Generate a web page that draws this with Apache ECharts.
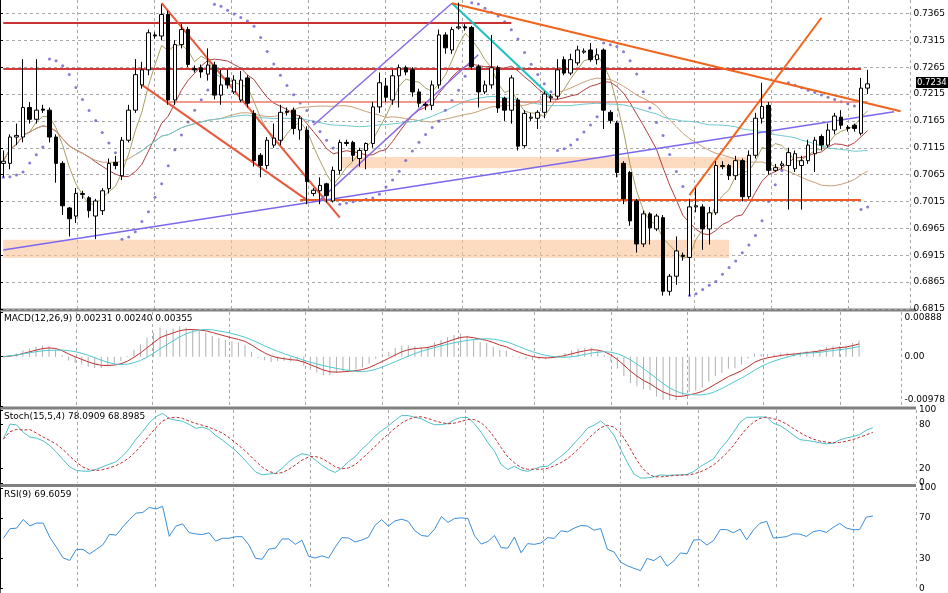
<!DOCTYPE html>
<html><head><meta charset="utf-8">
<script src="https://cdn.jsdelivr.net/npm/echarts@6/dist/echarts.min.js"></script>
<style>html,body{margin:0;padding:0;background:#fff}#c{width:948px;height:593px}</style>
</head><body><div id="c"></div>
<script>
// candles: [open, close, low, high]
const candles = [
[.7086,.7090,.7060,.7110],[.7086,.7135,.7075,.7140],[.7135,.7138,.7120,.7160],[.7135,.7190,.7125,.7280],
[.7190,.7168,.7160,.7200],[.7168,.7185,.7160,.7280],[.7187,.7185,.7180,.7195],[.7185,.7135,.7125,.7190],
[.7135,.7086,.7050,.7140],[.7086,.7007,.6990,.7090],[.7003,.6983,.6950,.7005],[.6988,.7030,.6975,.7040],
[.7028,.7030,.7020,.7035],[.7022,.6998,.6985,.7025],[.6988,.7016,.6945,.7020],[.6998,.7035,.6990,.7040],
[.7039,.7086,.7030,.7095],[.7088,.7082,.7075,.7100],[.7063,.7129,.7055,.7135],[.7129,.7185,.7125,.7195],
[.7185,.7251,.7180,.7280],[.7232,.7260,.7225,.7275],[.7260,.7329,.7250,.7335],[.7325,.7323,.7318,.7330],
[.7323,.7363,.7315,.7382],[.7363,.7204,.7195,.7370],[.7204,.7307,.7195,.7315],[.7307,.7335,.7300,.7345],
[.7335,.7270,.7265,.7340],[.7262,.7260,.7255,.7268],[.7264,.7256,.7245,.7270],[.7252,.7269,.7240,.7300],
[.7269,.7213,.7205,.7275],[.7213,.7232,.7195,.7260],[.7245,.7232,.7225,.7260],[.7219,.7241,.7215,.7250],
[.7204,.7241,.7200,.7258],[.7245,.7198,.7190,.7250],[.7179,.7091,.7080,.7185],[.7101,.7082,.7060,.7105],
[.7082,.7129,.7075,.7135],[.7120,.7133,.7115,.7160],[.7129,.7181,.7120,.7195],[.7183,.7181,.7175,.7190],
[.7185,.7151,.7140,.7190],[.7148,.7170,.7130,.7175],[.7148,.7052,.7010,.7155],[.7030,.7036,.7025,.7040],
[.7035,.7045,.7010,.7060],[.7048,.7026,.7013,.7050],[.7016,.7073,.7013,.7080],[.7073,.7125,.7065,.7130],
[.7125,.7123,.7118,.7130],[.7125,.7101,.7090,.7128],[.7095,.7110,.7080,.7115],[.7110,.7123,.7075,.7125],
[.7123,.7191,.7115,.7200],[.7191,.7236,.7180,.7255],[.7230,.7209,.7200,.7245],[.7204,.7249,.7195,.7260],
[.7249,.7264,.7190,.7270],[.7264,.7256,.7250,.7268],[.7260,.7219,.7210,.7265],[.7219,.7198,.7190,.7225],
[.7196,.7194,.7185,.7200],[.7194,.7232,.7185,.7240],[.7232,.7325,.7225,.7335],[.7325,.7301,.7290,.7330],
[.7297,.7335,.7290,.7340],[.7338,.7340,.7335,.7385],[.7340,.7338,.7333,.7345],[.7339,.7266,.7260,.7342],
[.7266,.7219,.7190,.7270],[.7219,.7232,.7215,.7240],[.7232,.7264,.7225,.7325],[.7264,.7189,.7180,.7268],
[.7207,.7185,.7165,.7210],[.7185,.7245,.7160,.7250],[.7204,.7118,.7110,.7208],[.7119,.7179,.7115,.7185],
[.7170,.7172,.7165,.7180],[.7170,.7181,.7150,.7185],[.7181,.7215,.7170,.7220],[.7208,.7210,.7200,.7215],
[.7211,.7260,.7205,.7280],[.7279,.7254,.7250,.7285],[.7254,.7279,.7250,.7290],[.7273,.7297,.7268,.7305],
[.7293,.7295,.7290,.7300],[.7297,.7279,.7275,.7310],[.7279,.7288,.7270,.7300],[.7297,.7185,.7150,.7300],
[.7181,.7166,.7160,.7185],[.7161,.7069,.7060,.7165],[.7086,.7020,.7010,.7090],[.7069,.6979,.6970,.7072],
[.7016,.6936,.6920,.7020],[.6936,.6992,.6930,.6998],[.6992,.6966,.6935,.6995],[.6964,.6988,.6960,.6992],
[.6985,.6848,.6840,.6990],[.6848,.6876,.6840,.6880],[.6876,.6923,.6860,.6950],[.6915,.6913,.6905,.6920],
[.6911,.7005,.6840,.7020],[.7005,.7007,.6995,.7040],[.7005,.6964,.6925,.7010],[.6964,.6994,.6935,.7005],
[.6994,.7082,.6990,.7090],[.7080,.7082,.7075,.7090],[.7082,.7063,.7055,.7085],[.7063,.7091,.7055,.7100],
[.7091,.7024,.7015,.7095],[.7024,.7101,.7020,.7110],[.7101,.7170,.7095,.7180],[.7170,.7192,.7160,.7236],
[.7194,.7073,.7065,.7200],[.7073,.7078,.7070,.7085],[.7082,.7085,.7075,.7090],[.7082,.7106,.7000,.7115],
[.7076,.7104,.7070,.7110],[.7082,.7091,.7000,.7100],[.7091,.7120,.7085,.7130],[.7104,.7129,.7070,.7135],
[.7136,.7120,.7110,.7140],[.7120,.7148,.7115,.7160],[.7148,.7174,.7140,.7180],[.7172,.7157,.7150,.7185],
[.7153,.7151,.7145,.7157],[.7157,.7151,.7145,.7160],[.7142,.7226,.7138,.7245],[.7226,.7234,.7215,.7260]
];
const slotCount = 138;
const priceTicks = [0.6815,0.6865,0.6915,0.6965,0.7015,0.7065,0.7115,0.7165,0.7215,0.7265,0.7315,0.7365];
const macdTicks = [-0.00978,0,0.00888];
const stochTicks = [0,20,80,100];
const rsiTicks = [0,30,70,100];
const lastPrice = 0.7234;
// trendlines [i1,p1,i2,p2,color,width]
const trendLines = [
 [-0.5,.7347,77.2,.7347,'#c83232',2],[-0.5,.7262,129.5,.7262,'#d23a3a',2],
 [25.4,.7200,130.7,.7200,'#ec7a68',1.5],[44.7,.7018,129.5,.7018,'#f05a1e',2],
 [-0.5,.7133,137.5,.7211,'#1a237e',2],[-0.5,.6925,135.2,.7182,'#7b68ee',1.5],
 [23.6,.7384,50.5,.6985,'#e8583c',2],[21.1,.7232,46.3,.7018,'#e8583c',2],
 [46.6,.7157,68.1,.7384,'#8a6be0',1.5],[47.5,.7018,71.9,.7288,'#8a6be0',1.5],
 [68.1,.7384,82.5,.7210,'#20c0c0',2],[68.1,.7384,136,.7183,'#f0641e',2],
 [103.6,.7027,124,.7357,'#f0641e',2],[103.9,.6832,137.5,.7130,'#f0641e',2]
];
const zones = [[51.2,.7098,112.9,.7077],[-0.5,.6944,110.4,.6910]];

const cats = Array.from({length:slotCount},(_,i)=>i);
const close = candles.map(c=>c[1]), high = candles.map(c=>c[3]), low = candles.map(c=>c[2]);
function sma(a,n){return a.map((_,i)=>{const s=a.slice(Math.max(0,i-n+1),i+1);return s.reduce((x,y)=>x+y,0)/s.length;});}
function ema(a,n){const k=2/(n+1);let r=[];a.forEach((v,i)=>r.push(i?v*k+r[i-1]*(1-k):v));return r;}
const ma5=sma(close,5),ma13=sma(close,13),ma34=sma(close,34),ma55=sma(close,55);
const e12=ema(close,12),e26=ema(close,26);
const macd=close.map((_,i)=>e12[i]-e26[i]);const sig=sma(macd,9);
const macdLine=ema(macd,5);
const num=[],den=[];
close.forEach((c,i)=>{const h=Math.max(...high.slice(Math.max(0,i-14),i+1)),l=Math.min(...low.slice(Math.max(0,i-14),i+1));num.push(c-l);den.push(h-l);});
const K=close.map((_,i)=>{let a=0,b=0;for(let j=Math.max(0,i-4);j<=i;j++){a+=num[j];b+=den[j];}return b?100*a/b:50;});
const D=sma(K,4);
let ag=0.0012,al=0.0012;const rsi=close.map((c,i)=>{if(!i)return 50;const d=c-close[i-1];ag=(ag*8+Math.max(d,0))/9;al=(al*8+Math.max(-d,0))/9;return al?100-100/(1+ag/al):100;});
// parabolic SAR
const sar=[];let up=true,af=.02,ep=high[0],s=low[0];
for(let i=0;i<close.length;i++){if(i){s=s+af*(ep-s);if(up){if(low[i]<s){up=false;s=ep;ep=low[i];af=.02;}else if(high[i]>ep){ep=high[i];af=Math.min(.2,af+.02);}}else{if(high[i]>s){up=true;s=ep;ep=high[i];af=.02;}else if(low[i]<ep){ep=low[i];af=Math.min(.2,af+.02);}}}sar.push(s);}

const grids=[{left:0,right:32,top:0,height:309},{left:0,right:32,top:312,height:94},{left:0,right:32,top:410,height:73},{left:0,right:32,top:488,height:105}];
const dash={show:true,lineStyle:{color:'#a8a8a8',type:[3,3],width:1}};
const lbl={color:'#000',fontSize:9,fontFamily:'DejaVu Sans',margin:3};
const xAxes=[],yAxes=[];
grids.forEach((g,i)=>{
 xAxes.push({type:'category',data:cats,gridIndex:i,boundaryGap:true,axisLine:{show:false},axisTick:{show:false},axisLabel:{show:false},splitLine:{show:false}});
 xAxes.push({type:'value',gridIndex:i,min:0,max:915,interval:77.5,axisLine:{show:false},axisTick:{show:false},axisLabel:{show:false},splitLine:dash});
});
yAxes.push({gridIndex:0,position:'right',min:0.6815,max:0.7390,axisLine:{show:true,lineStyle:{color:'#000'}},axisTick:{show:true,customValues:priceTicks,length:3,inside:false},axisLabel:{...lbl,customValues:priceTicks,formatter:v=>v.toFixed(4)},splitLine:dash});
yAxes.push({gridIndex:1,position:'right',min:-0.00978,max:0.00888,axisLine:{show:true,lineStyle:{color:'#000'}},axisTick:{customValues:macdTicks,length:3},
 axisLabel:{...lbl,customValues:macdTicks,formatter:v=>v===0?'0.00':(v>0?'{a|'+v.toFixed(5)+'}':'{b|'+v.toFixed(5)+'}'),
  rich:{a:{fontSize:9,fontFamily:'DejaVu Sans',padding:[12,0,0,0]},b:{fontSize:9,fontFamily:'DejaVu Sans',padding:[0,0,12,0]}}},splitLine:{show:false}});
yAxes.push({gridIndex:2,position:'right',min:0,max:100,axisLine:{show:true,lineStyle:{color:'#000'}},axisTick:{customValues:stochTicks,length:3},axisLabel:{...lbl,customValues:stochTicks},splitLine:{show:false}});
yAxes.push({gridIndex:3,position:'right',min:0,max:100,axisLine:{show:true,lineStyle:{color:'#000'}},axisTick:{customValues:rsiTicks,length:3},axisLabel:{...lbl,customValues:rsiTicks},splitLine:{show:false}});
function hline(v,color){return [{coord:[-0.5,v]},{coord:[137.5,v],lineStyle:{color:color||'#a8a8a8',type:[3,3],width:1}}];}
function line(name,data,xi,yi,color,extra){return Object.assign({type:'line',name,data,xAxisIndex:xi,yAxisIndex:yi,symbol:'none',lineStyle:{color,width:1},silent:true,z:3},extra||{});}
const ml=trendLines.map(t=>[{coord:[t[0],t[1]]},{coord:[t[2],t[3]],lineStyle:{color:t[4],width:t[5],type:'solid'}}]);
ml.push([{coord:[-0.5,lastPrice]},{coord:[137.5,lastPrice],lineStyle:{color:'#b4b4b4',width:1.2,type:'solid'}}]);
const series=[
 {type:'candlestick',data:candles,xAxisIndex:0,yAxisIndex:0,barWidth:4,z:5,itemStyle:{color:'#fff',color0:'#000',borderColor:'#000',borderColor0:'#000',borderWidth:1},
  markLine:{silent:true,symbol:'none',label:{show:false},data:ml},
  markArea:{silent:true,itemStyle:{color:'rgba(250,195,150,0.6)'},data:zones.map(z=>[{coord:[z[0],z[1]]},{coord:[z[2],z[3]]}])}},
 line('ma5',ma5,0,0,'#a8a060'),line('ma13',ma13,0,0,'#b04040'),line('ma34',ma34,0,0,'#c8a078'),line('ma55',ma55.map((v,i)=>i<20?null:v),0,0,'#70c8d0'),
 {type:'scatter',data:sar,xAxisIndex:0,yAxisIndex:0,symbolSize:3,itemStyle:{color:'#6a5acd'},z:4,silent:true},
 {type:'bar',data:macd,xAxisIndex:2,yAxisIndex:1,barWidth:1,itemStyle:{color:'#b0b0b0'},silent:true,
  markLine:{silent:true,symbol:'none',label:{show:false},data:[hline(0)]}},
 line('macd',macdLine,2,1,'#c03030'),line('sig',sig,2,1,'#50c8d0'),
 line('k',K,4,2,'#50c0c8',{markLine:{silent:true,symbol:'none',label:{show:false},data:[hline(80),hline(20)]}}),
 line('d',D,4,2,'#c03030',{lineStyle:{color:'#c03030',width:1,type:[3,2]}}),
 line('rsi',rsi,6,3,'#3a8ed8',{markLine:{silent:true,symbol:'none',label:{show:false},data:[hline(70),hline(30)]}})
];
const tstyle={fontSize:9,fontFamily:'DejaVu Sans',fill:'#000'};
const chart=echarts.init(document.getElementById('c'));
chart.setOption({animation:false,backgroundColor:'#fff',grid:grids,xAxis:xAxes,yAxis:yAxes,series,
 graphic:[
  {type:'rect',shape:{x:0,y:308.5,width:916,height:3},style:{fill:'#808080'}},
  {type:'rect',shape:{x:0,y:406.5,width:916,height:3},style:{fill:'#808080'}},
  {type:'rect',shape:{x:0,y:484,width:916,height:3},style:{fill:'#808080'}},
  {type:'rect',shape:{x:0,y:0,width:1,height:593},style:{fill:'#606060'}},
  {type:'text',x:4,y:314,style:{...tstyle,text:'MACD(12,26,9) 0.00231 0.00240 0.00355'}},
  {type:'text',x:4,y:412,style:{...tstyle,text:'Stoch(15,5,4) 78.0909 68.8985'}},
  {type:'text',x:4,y:490,style:{...tstyle,text:'RSI(9) 69.6059'}},
  {type:'rect',shape:{x:916,y:77,width:32,height:11},style:{fill:'#000'},z:100},
  {type:'text',x:917,y:78,style:{fontSize:8.5,fontFamily:'DejaVu Sans',fill:'#fff',text:lastPrice.toFixed(4)},z:101}
 ]});
</script></body></html>
